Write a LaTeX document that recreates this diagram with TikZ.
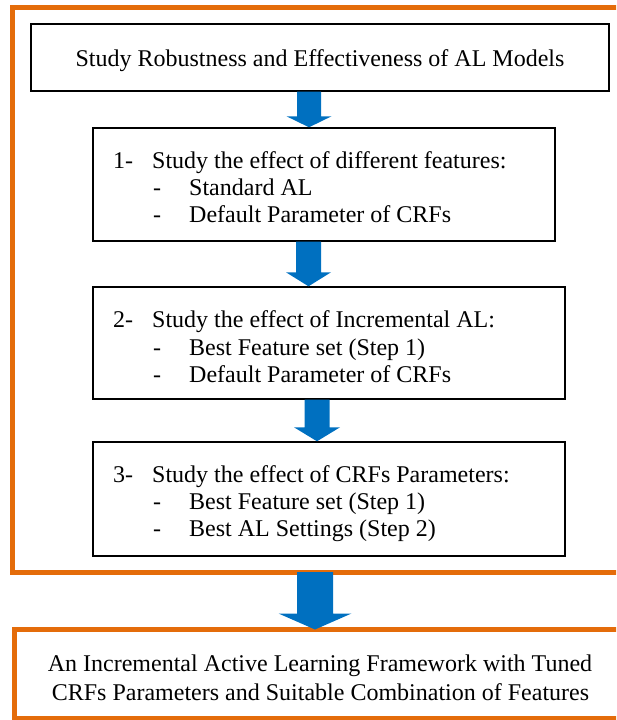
\documentclass[tikz,border=0pt]{standalone}
\usepackage{fontspec}
\setmainfont{Liberation Serif}
\usetikzlibrary{calc}
\definecolor{frameorange}{HTML}{E46C0A}
\definecolor{arrowblue}{HTML}{0070C0}
% block arrow: start, end, half shaft width, half head width, head length
\newcommand\blkarrow[5]{%
  \fill[arrowblue] ($(#1)+(-#3,0)$) -- ($(#2)+(-#3,-#5)$) -- ($(#2)+(-#4,-#5)$)
    -- (#2) -- ($(#2)+(#4,-#5)$) -- ($(#2)+(#3,-#5)$) -- ($(#1)+(#3,0)$) -- cycle;}
\begin{document}
\begin{tikzpicture}[x=1pt,y=-1pt,
  box/.style={draw=black, line width=1.4pt, rectangle, inner sep=0pt},
  oframe/.style={draw=frameorange, line width=5pt, rectangle, inner sep=0pt},
  txt/.style={anchor=base west, inner sep=0pt, font=\fontsize{24}{27}\selectfont},
  ctxt/.style={anchor=base, inner sep=0pt, font=\fontsize{24}{27}\selectfont}
]
\useasboundingbox (0,0) rectangle (616,720);
\clip (0,0) rectangle (616,720);

% outer frame
\node[oframe, minimum width=609.5pt, minimum height=565pt] (frame) at (317.25,290) {};

% top box
\node[box, minimum width=578pt, minimum height=67pt] (top) at (320,57.5) {};
\node[ctxt] (toptext) at (320,66) {Study Robustness and Effectiveness of AL Models};

% step 1
\node[box, minimum width=462pt, minimum height=113pt] (s1) at (324,184.5) {};
\node[txt] (s1n) at (113,168) {1-};
\node[txt] (s1a) at (152,168) {Study the effect of different features:};
\node[txt] (s1d1) at (153,195.5) {-};
\node[txt] (s1b) at (189,195.5) {Standard AL};
\node[txt] (s1d2) at (153,222.5) {-};
\node[txt] (s1c) at (189,222.5) {Default Parameter of CRFs};

% step 2
\node[box, minimum width=472pt, minimum height=112pt] (s2) at (329,343) {};
\node[txt] (s2n) at (113,327.5) {2-};
\node[txt] (s2a) at (152,327.5) {Study the effect of Incremental AL:};
\node[txt] (s2d1) at (153,355) {-};
\node[txt] (s2b) at (189,355) {Best Feature set (Step 1)};
\node[txt] (s2d2) at (153,382) {-};
\node[txt] (s2c) at (189,382) {Default Parameter of CRFs};

% step 3
\node[box, minimum width=472pt, minimum height=114pt] (s3) at (329,499) {};
\node[txt] (s3n) at (113,482) {3-};
\node[txt] (s3a) at (152,482) {Study the effect of CRFs Parameters:};
\node[txt] (s3d1) at (153,509.5) {-};
\node[txt] (s3b) at (189,509.5) {Best Feature set (Step 1)};
\node[txt] (s3d2) at (153,536.5) {-};
\node[txt] (s3c) at (189,536.5) {Best AL Settings (Step 2)};

% result
\node[oframe, minimum width=612pt, minimum height=89pt] (result) at (320,673.5) {};
\node[ctxt] (r1) at (320,671.5) {An Incremental Active Learning Framework with Tuned};
\node[ctxt] (r2) at (320.5,700) {CRFs Parameters and Suitable Combination of Features};

% arrows
\coordinate (ax1) at (309,0);
\coordinate (ax2) at (308.5,0);
\coordinate (ax3) at (317,0);
\coordinate (ax4) at (315,0);
\coordinate (a1s) at (ax1 |- top.south);
\coordinate (a1e) at (ax1 |- s1.north);
\coordinate (a2s) at (ax2 |- s1.south);
\coordinate (a2e) at (ax2 |- s2.north);
\coordinate (a3s) at (ax3 |- s2.south);
\coordinate (a3e) at (ax3 |- s3.north);
\coordinate (a4s) at ($(ax4 |- frame.south)+(0,-3)$);
\coordinate (a4e) at ($(ax4 |- result.north)+(0,3)$);
\blkarrow{a1s}{a1e}{12}{22.5}{11}
\blkarrow{a2s}{a2e}{12.5}{22.5}{14}
\blkarrow{a3s}{a3e}{12.5}{23}{14}
\blkarrow{a4s}{a4e}{18}{36.5}{16}
\end{tikzpicture}
\end{document}
